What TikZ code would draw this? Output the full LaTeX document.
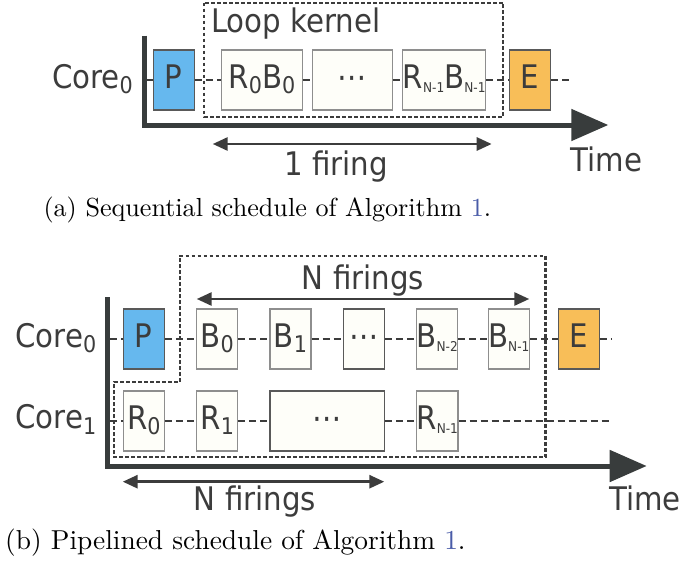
\documentclass[tikz,border=0pt]{standalone}
\usepackage{fontspec}
\newfontfamily\dvs{DejaVu Sans Condensed}
\newfontfamily\capfont{lmroman10-regular.otf}
\usetikzlibrary{arrows.meta}

\definecolor{ink}{HTML}{3C3C3C}
\definecolor{axisgray}{HTML}{383C3C}
\definecolor{boxline}{HTML}{8E8E8E}
\definecolor{boxfill}{HTML}{FEFEF9}
\definecolor{prologue}{HTML}{66B8EE}
\definecolor{epilogue}{HTML}{F8BE58}
\definecolor{linkblue}{HTML}{4A5CA8}

% subscripts: digits and the small N-k indices
\newcommand\bigsub[1]{\raisebox{-5.5pt}{\fontsize{23}{23}\selectfont #1}}
\newcommand\tinysub[1]{\raisebox{-4.5pt}{\fontsize{13.5}{13.5}\selectfont #1}}

\begin{document}
\begin{tikzpicture}[x=1pt,y=-1pt,
  lbl/.style={font=\dvs\fontsize{32.5}{38}\selectfont, text=ink, inner sep=0pt},
  task/.style={lbl, draw=boxline, line width=1.3pt, fill=boxfill,
    minimum height=60pt, minimum width=41pt, text height=16.6pt, text depth=0pt},
  darktask/.style={task, draw=ink!85},
  pro/.style={task, fill=prologue, draw=ink!85},
  epi/.style={task, fill=epilogue, draw=ink!85},
  conn/.style={draw=ink, line width=2.9pt, dash pattern=on 7pt off 4pt},
  kernel/.style={draw=ink, line width=2.1pt, dash pattern=on 3.6pt off 2.4pt},
  axis/.style={draw=axisgray, line width=5pt, -{Triangle[length=37pt,width=31pt]}},
  span/.style={draw=ink, line width=2.8pt,
    {Triangle[length=15pt,width=13pt]}-{Triangle[length=15pt,width=13pt]}},
  cap/.style={font=\capfont\fontsize{#1}{30}\selectfont, text=black, inner sep=0pt, anchor=base west},
]
\useasboundingbox (0,0) rectangle (683,565);

% ---------------- (a) sequential schedule ----------------
\draw[kernel] (204,2.7) rectangle (503.3,116.7);
\node[lbl, anchor=base west] (kname) at (211,32) {Loop kernel};

\coordinate (ax0a) at (144,35.5);
\coordinate (ax0b) at (608.3,125);
\draw[axis] (ax0a) |- (ax0b);

\node[lbl, anchor=base east] (core0a) at (133,88.3) {Core\bigsub{0}};

\node[pro]  (aP) at (173.8,80) {P};
\node[task, minimum width=80.6pt] (aK1) at (262,80) {R\bigsub{0}B\bigsub{0}};
\node[task, minimum width=80pt]   (aK2) at (352.3,80) {⋯};
\node[task, minimum width=82.8pt] (aK3) at (444.1,80) {R\tinysub{N-1}B\tinysub{N-1}};
\node[epi, minimum width=41.2pt]  (aE) at (529.9,80) {E};

\coordinate (a0s) at (146.5,80);
\coordinate (a0e) at (571,80);
\draw[conn] (a0s) -- (aP.west);
\draw[conn] (aP.east) -- (aK1.west);
\draw[conn] (aK1.east) -- (aK2.west);
\draw[conn] (aK2.east) -- (aK3.west);
\draw[conn] (aK3.east) -- (aE.west);
\draw[conn] (aE.east) -- (a0e);

\coordinate (fa1) at (212.7,144);
\coordinate (fa2) at (491.7,144);
\draw[span] (fa1) -- (fa2);
\node[lbl, anchor=base] (firing1) at (336,175) {1 firing};
\node[lbl, anchor=base west] (time0) at (570.7,171) {Time};

\node[cap=26.1] (capa) at (43.3,216.7) {(a) Sequential schedule of Algorithm \textcolor{linkblue}{1}.};

% ---------------- (b) pipelined schedule ----------------
\draw[kernel] (180,382) -- (180,255.7) -- (545.5,255.7) -- (545.5,457.3)
  -- (114.2,457.3) -- (114.2,382) -- cycle;

\coordinate (ax1a) at (107.3,297);
\coordinate (ax1b) at (646.7,466);
\draw[axis] (ax1a) |- (ax1b);

\node[lbl, anchor=base east] (core0b) at (96.5,347.3) {Core\bigsub{0}};
\node[lbl, anchor=base east] (core1b) at (96.5,428.5) {Core\bigsub{1}};

% core 0 row
\node[pro]  (bP)   at (143.8,339) {P};
\node[task] (bB0)  at (217.2,339) {B\bigsub{0}};
\node[task] (bB1)  at (290.5,339) {B\bigsub{1}};
\node[darktask] (bBd) at (363.8,339) {⋯};
\node[task] (bBn2) at (437.2,339) {B\tinysub{N-2}};
\node[task] (bBn1) at (508.8,339) {B\tinysub{N-1}};
\node[epi]  (bE)   at (578.8,339) {E};

% core 1 row
\node[task] (bR0)  at (143.8,421) {R\bigsub{0}};
\node[task] (bR1)  at (217.2,421) {R\bigsub{1}};
\node[darktask, minimum width=114.3pt] (bRd) at (327.2,421) {⋯};
\node[task] (bRn1) at (437.2,421) {R\tinysub{N-1}};

\coordinate (b0s) at (109.8,339);
\coordinate (b0e) at (612,339);
\coordinate (b1s) at (109.8,421);
\coordinate (b1e) at (612,421);
\draw[conn] (b0s) -- (bP.west);
\draw[conn] (bP.east) -- (bB0.west);
\draw[conn] (bB0.east) -- (bB1.west);
\draw[conn] (bB1.east) -- (bBd.west);
\draw[conn] (bBd.east) -- (bBn2.west);
\draw[conn] (bBn2.east) -- (bBn1.west);
\draw[conn] (bBn1.east) -- (bE.west);
\draw[conn] (bE.east) -- (b0e);
\draw[conn] (b1s) -- (bR0.west);
\draw[conn] (bR0.east) -- (bR1.west);
\draw[conn] (bR1.east) -- (bRd.west);
\draw[conn] (bRd.east) -- (bRn1.west);
\draw[conn] (bRn1.east) -- (b1e);

\coordinate (fb1) at (196.7,299);
\coordinate (fb2) at (529.3,299);
\draw[span] (fb1) -- (fb2);
\node[lbl, anchor=base] (nfire0) at (363,289) {N firings};

\coordinate (fc1) at (122.7,481.7);
\coordinate (fc2) at (384.3,481.7);
\draw[span] (fc1) -- (fc2);
\node[lbl, anchor=base] (nfire1) at (255,510.3) {N firings};
\node[lbl, anchor=base west] (time1) at (609.3,510) {Time};

\node[cap=27.4] (capb) at (5,549.3) {(b) Pipelined schedule of Algorithm \textcolor{linkblue}{1}.};
\end{tikzpicture}
\end{document}
